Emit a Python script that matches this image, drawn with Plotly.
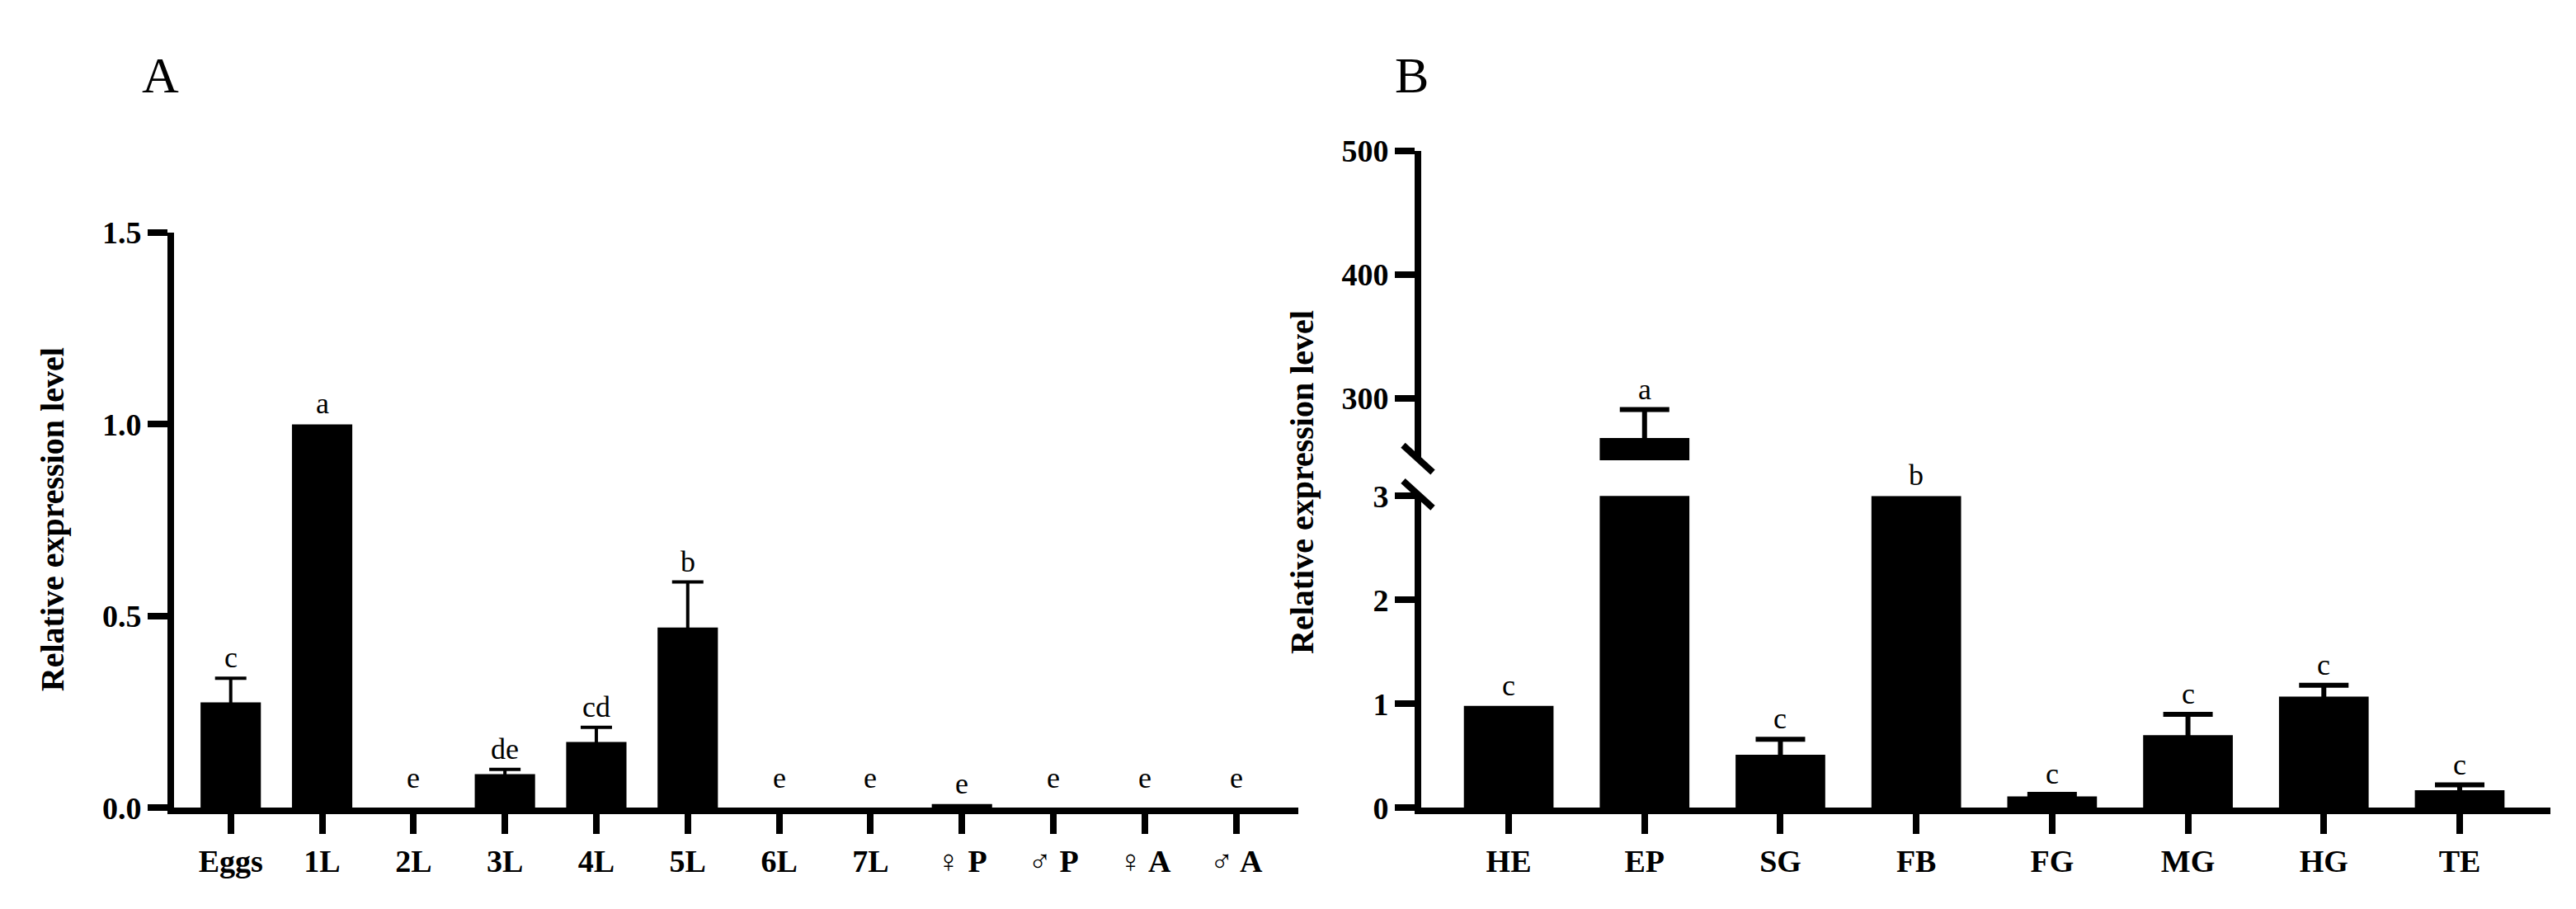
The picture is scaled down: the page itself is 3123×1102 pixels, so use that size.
import plotly.graph_objects as go

# panel A: developmental stages
stages = ["Eggs", "1L", "2L", "3L", "4L", "5L", "6L", "7L",
          "\u2640\ufe0e P", "\u2642\ufe0e P", "\u2640\ufe0e A", "\u2642\ufe0e A"]
stage_values = [0.275, 1.0, 0.0, 0.088, 0.172, 0.470, 0.0, 0.0, 0.010, 0.0, 0.0, 0.0]
stage_errors = [0.063, 0.0, 0.0, 0.012, 0.038, 0.119, 0.0, 0.0, 0.0, 0.0, 0.0, 0.0]
stage_letters = ["c", "a", "e", "de", "cd", "b", "e", "e", "e", "e", "e", "e"]

# panel B: tissues (broken axis 0-3 / 250-500)
tissues = ["HE", "EP", "SG", "FB", "FG", "MG", "HG", "TE"]
tissue_values = [0.98, 268.0, 0.51, 3.0, 0.11, 0.70, 1.07, 0.17]
tissue_errors = [0.0, 23.0, 0.15, 0.0, 0.02, 0.20, 0.11, 0.05]
tissue_letters = ["c", "a", "c", "b", "c", "c", "c", "c"]

W, H = 3123, 1102
FONT = "Liberation Serif, DejaVu Serif, DejaVu Sans"
BLACK = "black"

# plot area edges in pixels
ax_a = dict(left=203, right=1566, bottom=988, top=263)
ax_b = dict(left=1715, right=3084, bottom=988, low_top=595, up_bottom=550, up_top=160)

px_x = lambda p: p / W
px_y = lambda p: 1 - p / H


def whiskers(cats, vals, errs, xax, yax, thickness, width):
    # error bars only where there is an error; lower half hides inside the black bar
    keep = [i for i, e in enumerate(errs) if e > 0]
    return go.Scatter(
        x=[cats[i] for i in keep], y=[vals[i] for i in keep],
        xaxis=xax, yaxis=yax, mode="markers",
        marker=dict(size=1, color=BLACK),
        error_y=dict(type="data", array=[errs[i] for i in keep],
                     color=BLACK, thickness=thickness, width=width),
        hoverinfo="skip", showlegend=False,
    )


fig = go.Figure()

fig.add_trace(go.Bar(
    x=stages, y=stage_values, width=0.66, xaxis="x", yaxis="y",
    marker=dict(color=BLACK, line=dict(width=0)), showlegend=False,
))
fig.add_trace(whiskers(stages, stage_values, stage_errors, "x", "y", 4, 19))

for yax in ["y2", "y3"]:
    fig.add_trace(go.Bar(
        x=tissues, y=tissue_values, width=0.66, xaxis="x2", yaxis=yax,
        marker=dict(color=BLACK, line=dict(width=0)), showlegend=False,
    ))
    fig.add_trace(whiskers(tissues, tissue_values, tissue_errors, "x2", yax, 6, 30))

tick_font = dict(family=FONT, size=38, color=BLACK, weight="bold")
axis_common = dict(showline=True, linewidth=8, linecolor=BLACK, ticks="outside",
                   ticklen=24, tickwidth=8, tickcolor=BLACK, showgrid=False,
                   zeroline=False, tickfont=tick_font, fixedrange=True)

letter_font = dict(family=FONT, size=36, color=BLACK)
annotations = []
for x, v, e, t in zip(stages, stage_values, stage_errors, stage_letters):
    annotations.append(dict(x=x, y=v + e, xref="x", yref="y", text=t, showarrow=False,
                            xanchor="center", yanchor="bottom",
                            yshift=3 if v > 0 else 14, font=letter_font))
for x, v, e, t in zip(tissues, tissue_values, tissue_errors, tissue_letters):
    top = v + e
    annotations.append(dict(x=x, y=top, xref="x2", yref="y3" if top > 3 else "y2",
                            text=t, showarrow=False, xanchor="center", yanchor="bottom",
                            yshift=3, font=letter_font))

title_font = dict(family=FONT, size=40, color=BLACK, weight="bold")
panel_font = dict(family=FONT, size=62, color=BLACK)
for x, y, text, font, angle in [(55, 625, "Relative expression level", title_font, -90),
                                (1570, 577, "Relative expression level", title_font, -90),
                                (186, 64, "A", panel_font, 0),
                                (1704, 64, "B", panel_font, 0)]:
    annotations.append(dict(x=px_x(x), y=px_y(y), xref="paper", yref="paper", text=text,
                            textangle=angle, showarrow=False, xanchor="center",
                            yanchor="middle", font=font))

# axis break marks on panel B
shapes = []
bx = ax_b["left"] - 4
for cy in [ax_b["up_bottom"] - 2, ax_b["low_top"] - 2]:
    shapes.append(dict(type="line", xref="paper", yref="paper",
                       x0=px_x(bx - 18), y0=px_y(cy - 17),
                       x1=px_x(bx + 18), y1=px_y(cy + 17),
                       line=dict(color=BLACK, width=8)))

fig.update_layout(
    width=W, height=H,
    margin=dict(l=0, r=0, t=0, b=0),
    paper_bgcolor="white", plot_bgcolor="white",
    xaxis=dict(axis_common, type="category", categoryorder="array", categoryarray=stages,
               range=[-0.62, 11.68],
               domain=[px_x(ax_a["left"]), px_x(ax_a["right"])], anchor="y"),
    yaxis=dict(axis_common, range=[0, 1.5], tickvals=[0, 0.5, 1.0, 1.5], tickformat=".1f",
               domain=[px_y(ax_a["bottom"]), px_y(ax_a["top"])], anchor="x"),
    xaxis2=dict(axis_common, type="category", categoryorder="array", categoryarray=tissues,
                range=[-0.644, 7.668],
                domain=[px_x(ax_b["left"]), px_x(ax_b["right"])], anchor="y2"),
    yaxis2=dict(axis_common, range=[0, 3], tickvals=[0, 1, 2, 3],
                domain=[px_y(ax_b["bottom"]), px_y(ax_b["low_top"])], anchor="x2"),
    yaxis3=dict(axis_common, range=[250, 500], tickvals=[300, 400, 500],
                domain=[px_y(ax_b["up_bottom"]), px_y(ax_b["up_top"])], anchor="x2"),
    annotations=annotations,
    shapes=shapes,
)

fig.write_html("out.html")
